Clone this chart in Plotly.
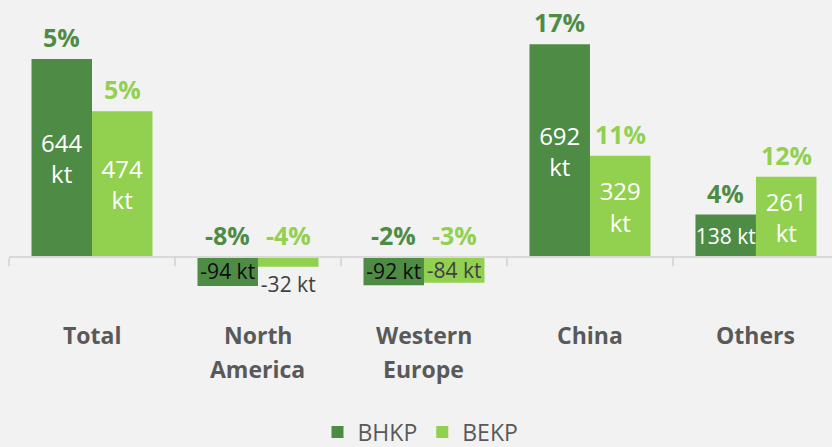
import plotly.graph_objects as go

# ---- data ----
categories = ["Total", "North America", "Western Europe", "China", "Others"]
category_lines = [["Total"], ["North", "America"], ["Western", "Europe"], ["China"], ["Others"]]
series_names = ["BHKP", "BEKP"]
bhkp_kt = [644, -94, -92, 692, 138]
bekp_kt = [474, -32, -84, 329, 261]
bhkp_pct = ["5%", "-8%", "-2%", "17%", "4%"]
bekp_pct = ["5%", "-4%", "-3%", "11%", "12%"]

# ---- style ----
DARK = "#4E8C46"
LIGHT = "#92D050"
BG = "#F2F2F2"
GREY = "#595959"
FONT = "Open Sans"

W, H = 832, 447
TOP_PX, BOT_PX, ZERO_PX = 10, 300, 257
PX_PER_KT = 198 / 644.0
ymax = (ZERO_PX - TOP_PX) / PX_PER_KT
ymin = -(BOT_PX - ZERO_PX) / PX_PER_KT
bargap = 45 / 166.0
off = (1 - bargap) / 4.0


def paper_y(px):
    return (BOT_PX - px) / (BOT_PX - TOP_PX)


def bar_text(vals):
    return [f"{v}<br>kt" if v > 200 else f"{v} kt" for v in vals]


def text_sizes(vals):
    return [24 if v > 200 else 21 for v in vals]


def text_positions(vals):
    # bars too thin to hold the label get it just below
    return ["inside" if abs(v) * PX_PER_KT >= 20 else "outside" for v in vals]


def text_colors(vals, neg_color):
    return ["white" if v > 0 else neg_color for v in vals]


fig = go.Figure()
for name, vals, color, negc in [
    (series_names[0], bhkp_kt, DARK, "#0D0D0D"),
    (series_names[1], bekp_kt, LIGHT, "#404040"),
]:
    fig.add_trace(go.Bar(
        name=name, x=categories, y=vals, marker=dict(color=color, line=dict(width=0)),
        text=bar_text(vals), textposition=text_positions(vals), insidetextanchor="middle",
        constraintext="none", cliponaxis=False,
        textfont=dict(family=FONT, size=text_sizes(vals), color=text_colors(vals, negc)),
        hoverinfo="skip",
    ))

annotations = []
for i in range(len(categories)):
    for vals, pcts, color, sgn in [(bhkp_kt, bhkp_pct, DARK, -1), (bekp_kt, bekp_pct, LIGHT, 1)]:
        annotations.append(dict(
            x=i + sgn * off, y=max(vals[i], 0), xref="x", yref="y",
            text=f"<b>{pcts[i]}</b>", showarrow=False, yanchor="bottom", yshift=3,
            font=dict(family=FONT, size=25, color=color),
        ))
    for j, line in enumerate(category_lines[i]):
        annotations.append(dict(
            x=i, y=paper_y(335 + 34 * j), xref="x", yref="paper",
            text=f"<b>{line}</b>", showarrow=False, yanchor="middle",
            font=dict(family=FONT, size=23, color=GREY),
        ))

fig.update_layout(
    width=W, height=H,
    margin=dict(l=9, r=0, t=TOP_PX, b=H - BOT_PX, autoexpand=False),
    paper_bgcolor=BG, plot_bgcolor=BG,
    barmode="group", bargap=bargap, bargroupgap=0,
    showlegend=True,
    legend=dict(orientation="h", x=0.5, xanchor="center", y=paper_y(432), yanchor="middle",
                font=dict(family=FONT, size=23, color=GREY), itemwidth=30,
                bgcolor="rgba(0,0,0,0)"),
    xaxis=dict(type="category", range=[-0.5, 4.458], anchor="free", position=paper_y(ZERO_PX),
               showline=True, linecolor="#D9D9D9", linewidth=1.5,
               ticks="outside", tickson="boundaries", ticklen=8, tickcolor="#D9D9D9", tickwidth=1.5,
               showticklabels=False, showgrid=False, zeroline=False, fixedrange=True),
    yaxis=dict(range=[ymin, ymax], visible=False, showgrid=False, zeroline=False, fixedrange=True),
    annotations=annotations,
    font=dict(family=FONT, color=GREY),
)

fig.write_html("out.html", config={"displayModeBar": False},
               post_script="document.body.style.margin='0';")
